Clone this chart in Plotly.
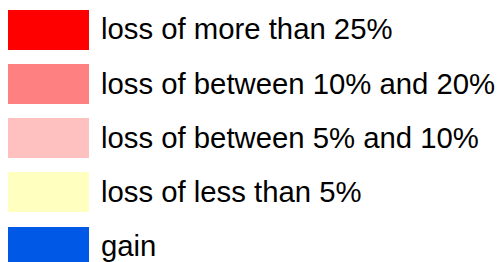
import plotly.graph_objects as go

labels = [
    "loss of more than 25%",
    "loss of between 10% and 20%",
    "loss of between 5% and 10%",
    "loss of less than 5%",
    "gain",
]
colors = ["#FF0000", "#FF8080", "#FFC0C0", "#FFFFC0", "#0058E6"]
rows = list(range(len(labels)))

STEP = 54.25
fig = go.Figure()
fig.add_trace(go.Bar(
    y=rows, x=[81] * len(rows), base=8, orientation="h",
    marker=dict(color=colors, line=dict(width=0)),
    width=40 / STEP, hoverinfo="skip", showlegend=False,
))
fig.add_trace(go.Scatter(
    y=rows, x=[101] * len(rows), mode="text", text=labels, yaxis="y2",
    textposition="middle right", cliponaxis=False,
    textfont=dict(family="Liberation Sans, Arial, sans-serif", size=29.3, color="#000000"),
    hoverinfo="skip", showlegend=False,
))
text_c = 32.0
fig.update_layout(
    width=501, height=262,
    margin=dict(l=0, r=0, t=0, b=0),
    paper_bgcolor="white", plot_bgcolor="white",
    xaxis=dict(range=[0, 501], visible=False, fixedrange=True),
    yaxis=dict(range=[(262 - 29.5) / STEP, -29.5 / STEP], visible=False, fixedrange=True),
    yaxis2=dict(range=[(262 - text_c) / STEP, -text_c / STEP], visible=False,
                fixedrange=True, overlaying="y"),
    bargap=0,
)
fig.write_html("out.html", config={"displayModeBar": False},
               post_script="document.body.style.margin='0';document.body.style.overflow='hidden';")
